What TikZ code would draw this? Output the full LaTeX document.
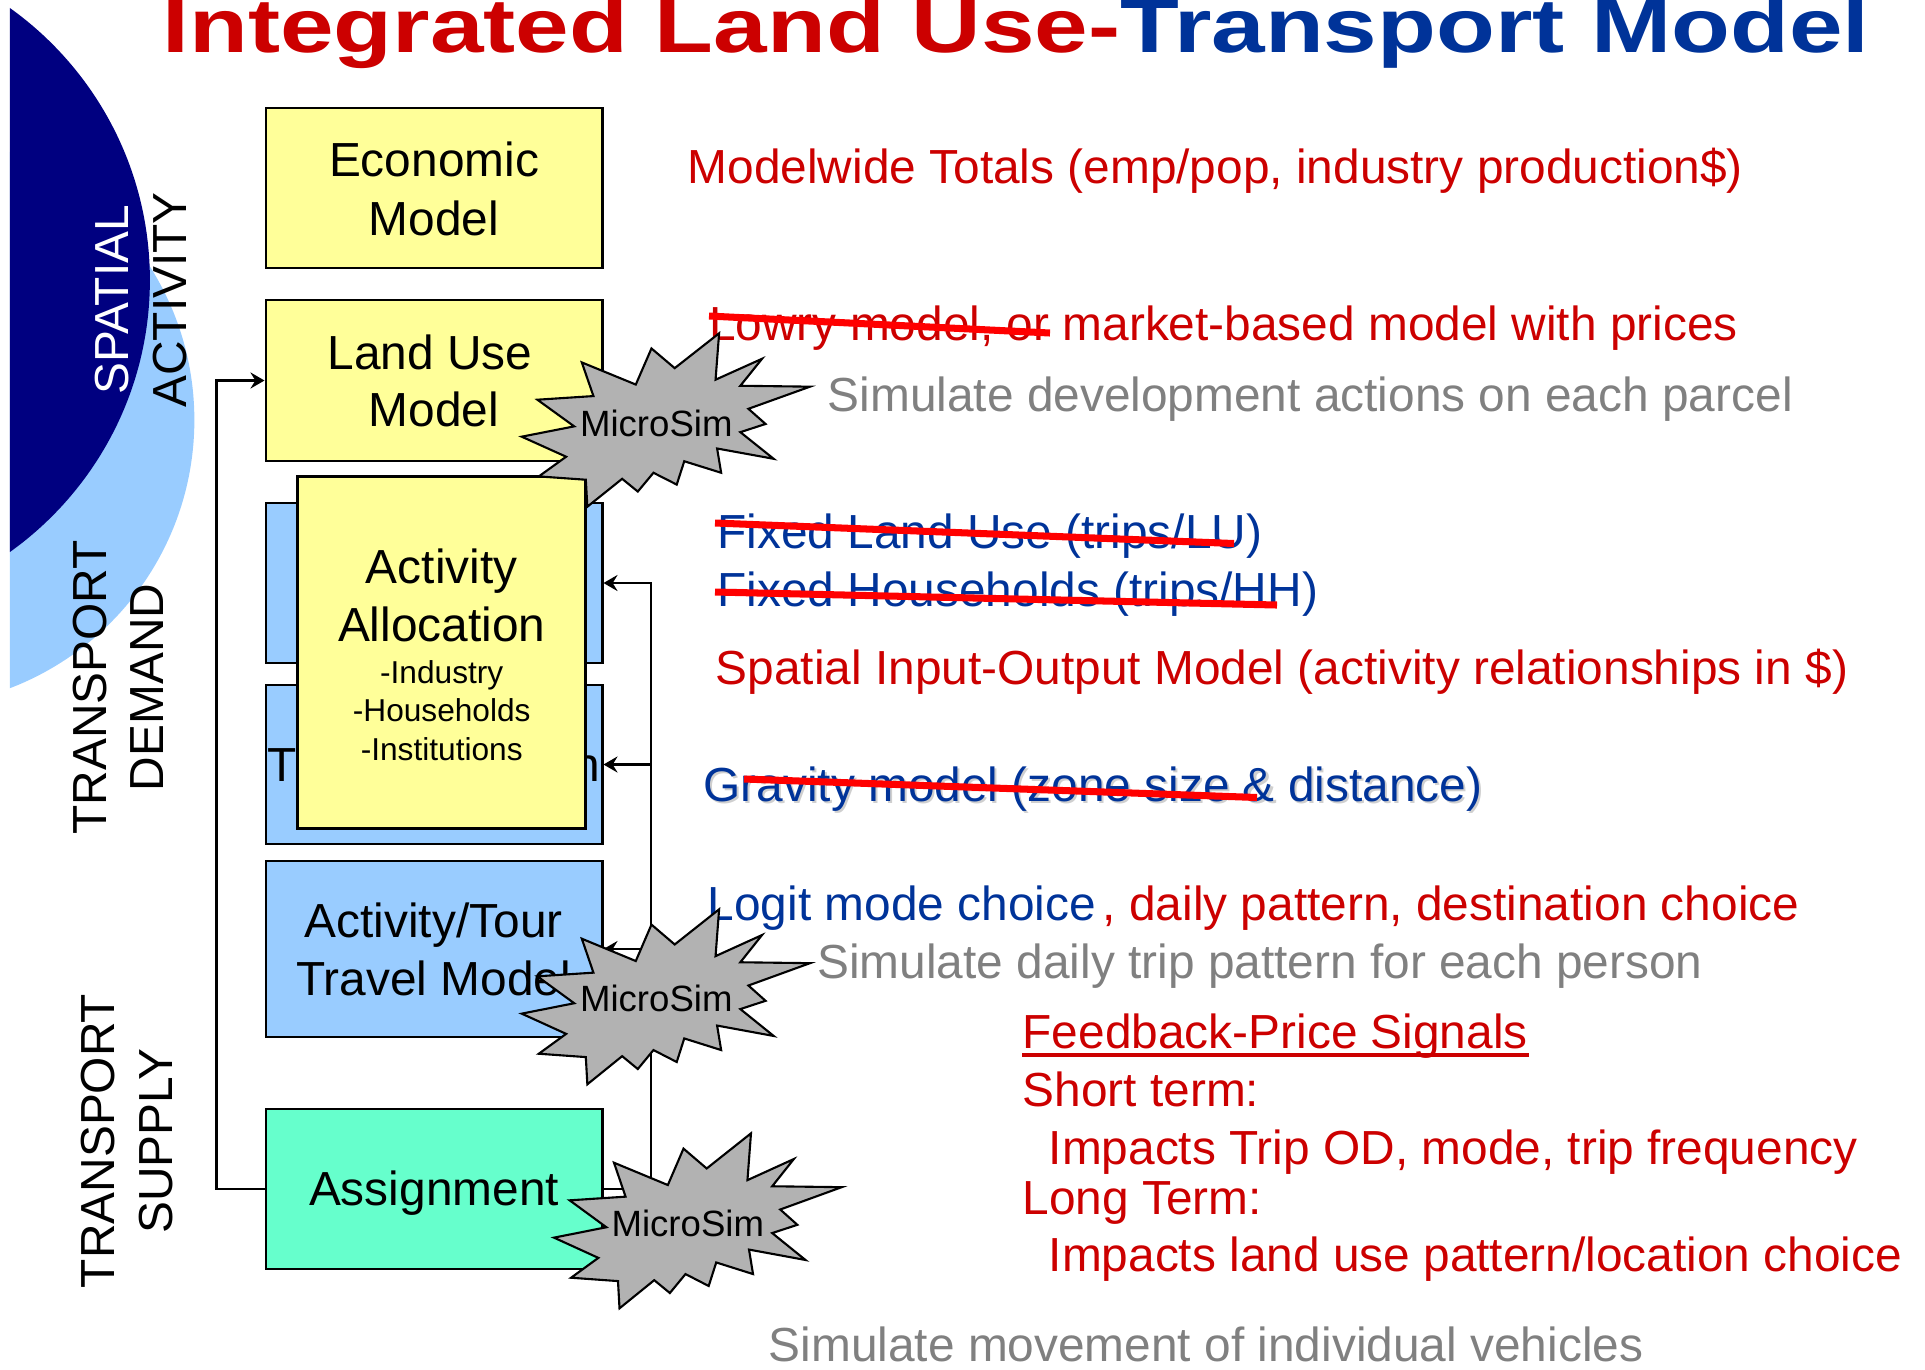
\documentclass[tikz,border=0pt]{standalone}
\usepackage{fontspec}
\setmainfont{Liberation Sans}
\usetikzlibrary{arrows.meta}

\definecolor{navyband}{HTML}{000080}
\definecolor{skyband}{HTML}{99CCFF}
\definecolor{paleyellow}{HTML}{FFFF99}
\definecolor{paleblue}{HTML}{99CCFF}
\definecolor{aqua}{HTML}{66FFCC}
\definecolor{burstgrey}{HTML}{B2B2B2}
\definecolor{slidered}{HTML}{CC0000}
\definecolor{slideblue}{HTML}{003399}
\definecolor{slidegrey}{HTML}{808080}
\definecolor{strikered}{HTML}{FF0000}
\definecolor{shadowgrey}{HTML}{CFCFCF}

% explosion outline in a 100 x 100 frame, scaled to its bounding box
\newcommand{\burst}[4]{%
  \begin{scope}[shift={(#1,#2)},xscale=#3/100,yscale=#4/100]
    \draw[burstshape] (53.07,20.09) -- (45.01,8.74) -- (39.57,29.55) -- (20.85,16.79)
      -- (24.88,36.19) -- (5.44,38.29) -- (18.21,53.67) -- (0,59.61)
      -- (15.41,71.17) -- (5.94,82.52) -- (22.24,84.44) -- (22.77,100)
      -- (34.84,83.91) -- (40.27,91.26) -- (45.70,80.42) -- (53.77,87.24)
      -- (56.38,73.78) -- (69.18,80.42) -- (67.78,66.43) -- (87.40,72.37)
      -- (75.84,57.00) -- (84.58,52.28) -- (78.64,43.54) -- (100,30.77)
      -- (75.84,30.25) -- (83.36,14.69) -- (67.24,26.75) -- (68.47,0) -- cycle;
  \end{scope}}

\tikzset{
  bodyfont/.style={font=\fontsize{13.6}{16.4}\selectfont},
  modelbox/.style={draw=black, line width=0.8pt, minimum width=3.36cm, inner sep=0},
  boxline/.style={bodyfont, anchor=base, inner sep=0},
  smallline/.style={font=\fontsize{9}{11}\selectfont, anchor=base, inner sep=0},
  note/.style={bodyfont, anchor=base west, inner sep=0},
  side/.style={bodyfont, rotate=90, align=center, inner sep=0},
  feed/.style={draw=black, line width=0.6pt},
  feedarrow/.style={feed, -{Stealth[length=4pt,width=4.6pt,inset=1.4pt]}},
  burstshape/.style={draw=black, line width=0.6pt, fill=burstgrey, line join=miter},
  burstlabel/.style={font=\fontsize{10.4}{12}\selectfont, anchor=base, inner sep=0},
  strike/.style={draw=strikered, line width=2pt},
}

\begin{document}
\begin{tikzpicture}[x=0.01cm,y=-0.01cm]
\useasboundingbox (0,0) rectangle (1925,1369);

% background bands on the left edge
\begin{scope}
  \clip (9.8,0) rectangle (1925,1369);
  \fill[skyband] (-92.7,420) circle[radius=2.869cm];
  \fill[navyband] (-184.3,280) circle[radius=3.34cm];
\end{scope}

% title
\node[anchor=base west, inner sep=0, font=\bfseries\fontsize{21.7}{26}\selectfont] (title) at (162,52.3)
  {\scalebox{1.262}[1]{\textcolor{slidered}{Integrated Land Use-}\textcolor{slideblue}{Transport Model}}};

% side labels
\node[side] (spatial) at (141,300) {\textcolor{white}{SPATIAL}\\ACTIVITY};
\node[side] (demand) at (118.2,687.5) {TRANSPORT\\DEMAND};
\node[side] (supply) at (126.7,1141) {TRANSPORT\\SUPPLY};

% model boxes
\node[modelbox, fill=paleyellow, minimum height=1.60cm] (econ) at (434,188) {};
\node[modelbox, fill=paleyellow, minimum height=1.61cm] (landuse) at (434,380.5) {};
\node[modelbox, fill=paleblue, minimum height=1.60cm] (trip1) at (434,583) {};
\node[modelbox, fill=paleblue, minimum height=1.59cm] (trip2) at (434,764.5) {};
\node[modelbox, fill=paleblue, minimum height=1.76cm] (tour) at (434,949) {};
\node[modelbox, fill=aqua, minimum height=1.60cm] (assign) at (434,1189) {};

% feedback loops
\draw[feedarrow] (assign.west) -- ++(-48,0) |- (landuse.west);
\draw[feed] (assign.east) -- ++(47.5,0) coordinate (fbR);
\draw[feedarrow] (fbR) |- (trip1.east);
\draw[feedarrow] (fbR |- trip2.east) -- (trip2.east);
\draw[feedarrow] (fbR |- tour.east) -- (tour.east);

% box texts
\node[boxline] (econ1) at (434,176.7) {Economic};
\node[boxline] (econ2) at (434,235) {Model};
\node[boxline] (lu1) at (430,369.3) {Land Use};
\node[boxline] (lu2) at (434,426.7) {Model};
\node[boxline] (td) at (434,781.7) {Trip Distribution};

% activity allocation box over the trip boxes
\node[modelbox, fill=paleyellow, minimum width=2.88cm, minimum height=3.516cm] (alloc) at (441.7,652.5) {};
\node[boxline] (al1) at (441.7,583.3) {Activity};
\node[boxline] (al2) at (441.7,641.7) {Allocation};
\node[smallline] (al3) at (441.7,683.3) {-Industry};
\node[smallline] (al4) at (441.7,721.7) {-Households};
\node[smallline] (al5) at (441.7,760) {-Institutions};

\node[boxline] (tour1) at (433.6,937.3) {Activity/Tour};
\node[boxline] (tour2) at (433.6,995) {Travel Model};
\node[boxline] (as1) at (434,1205) {Assignment};

% notes on the right
\node[note, text=slidered] (n1) at (687,183.3) {Modelwide Totals (emp/pop, industry production\$)};
\node[note, text=slidered] (n2) at (708.5,340) {Lowry model, or market-based model with prices};
\node[note, text=slidegrey] (n3) at (827,411.7) {Simulate development actions on each parcel};
\node[note, text=slideblue] (n4) at (716.7,548.3) {Fixed Land Use (trips/LU)};
\node[note, text=slideblue] (n5) at (716.7,606) {Fixed Households (trips/HH)};
\node[note, text=slidered] (n6) at (715,684) {Spatial Input-Output Model (activity relationships in \$)};
\node[note, text=shadowgrey] (n7s) at (704.8,803.7) {Gravity model (zone size \& distance)};
\node[note, text=slideblue] (n7) at (702.8,801.7) {Gravity model (zone size \& distance)};
\node[note, text=slideblue] (n8) at (707,920) {Logit mode choice};
\node[note, text=slidered] (n9) at (1102,920) {, daily pattern, destination choice};
\node[note, text=slidegrey] (n10) at (816.7,978.3) {Simulate daily trip pattern for each person};
\node[note, text=slidered] (n11) at (1022,1048.3) {Feedback-Price Signals};
\draw[slidered, line width=0.9pt] ([yshift=-0.067cm]n11.base west) -- ([yshift=-0.067cm]n11.base east);
\node[note, text=slidered] (n12) at (1022,1106) {Short term:};
\node[note, text=slidered] (n13) at (1048,1164) {Impacts Trip OD, mode, trip frequency};
\node[note, text=slidered] (n14) at (1022,1214) {Long Term:};
\node[note, text=slidered] (n15) at (1048,1271.7) {Impacts land use pattern/location choice};
\node[note, text=slidegrey] (n16) at (768,1361.7) {Simulate movement of individual vehicles};

% microsimulation bursts
\burst{521.7}{333.3}{288.3}{173.4}
\node[burstlabel] (ms1) at (656.3,436.7) {MicroSim};
\burst{521.7}{909.3}{288.3}{175}
\node[burstlabel] (ms2) at (656.3,1011.7) {MicroSim};
\burst{554}{1133.3}{287.7}{175}
\node[burstlabel] (ms3) at (687.8,1236.7) {MicroSim};

% struck-out alternatives
\draw[strike] (709,316) -- (1050,333);
\draw[strike] (715,523) -- (1234,543.5);
\draw[strike] (715,592) -- (1277,605);
\draw[strike] (744,779) -- (1257,797.5);
\end{tikzpicture}
\end{document}
